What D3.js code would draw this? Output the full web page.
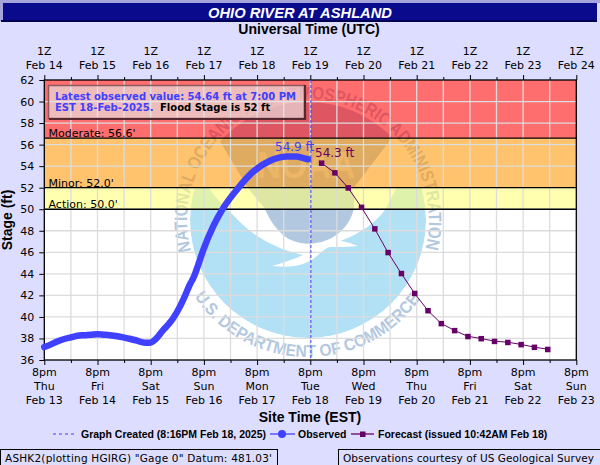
<!DOCTYPE html>
<html>
<head>
<meta charset="utf-8">
<script src="https://cdn.jsdelivr.net/npm/d3@7"></script>
<style>
  body { margin: 0; background: #ddddff; }
  text { font-family: "DejaVu Sans", sans-serif; fill: #000; }
  .bold { font-weight: bold; }
  .title { font-family: "Liberation Sans", sans-serif; font-weight: bold; font-size: 14px; }
  .legend { font-family: "Liberation Sans", sans-serif; font-weight: bold; font-size: 10.5px; }
  .domain { display: none; }
</style>
</head>
<body>
<script>
const width = 600;
const height = 465;

const margin = { top: 80, left: 44.3, bottom: 105, right: 23.7 };

// hours since 8pm EST Thu Feb 13
const obsHours = [0, 3, 5.6, 9, 12, 15, 17.6, 21, 24, 27, 29.6, 33, 35.6, 39, 41.7, 45.4, 47.5, 49.2, 51, 53.7, 56, 58.2, 61.3, 62.7, 65.9, 67.2, 70.2, 71.7, 76.4, 80.7, 86.8, 94.3, 101.8, 105, 109.5, 113.9, 116, 119];
const obsStage = [37.2, 37.45, 37.7, 37.95, 38.1, 38.25, 38.3, 38.35, 38.4, 38.35, 38.3, 38.2, 38.1, 37.95, 37.8, 37.6, 37.6, 37.75, 38.1, 38.8, 39.3, 39.9, 41.0, 41.6, 43.1, 43.6, 45.3, 46.2, 48.5, 50.1, 51.8, 53.5, 54.5, 54.75, 54.9, 54.9, 54.8, 54.64];

const fcstHours = [125, 131, 137, 143, 149, 155, 161, 167, 173, 179, 185, 191, 197, 203, 209, 215, 221, 227];
const fcstStage = [54.3, 53.4, 52.0, 50.2, 48.2, 46.0, 44.05, 42.2, 40.6, 39.4, 38.75, 38.2, 38.0, 37.75, 37.65, 37.45, 37.2, 37.0];

const createdHour = 120.27;

const utcDates = ["Feb 14", "Feb 15", "Feb 16", "Feb 17", "Feb 18", "Feb 19", "Feb 20", "Feb 21", "Feb 22", "Feb 23", "Feb 24"];
const estDays = ["Thu", "Fri", "Sat", "Sun", "Mon", "Tue", "Wed", "Thu", "Fri", "Sat", "Sun"];
const estDates = ["Feb 13", "Feb 14", "Feb 15", "Feb 16", "Feb 17", "Feb 18", "Feb 19", "Feb 20", "Feb 21", "Feb 22", "Feb 23"];

const stageTicks = d3.range(36, 63, 2);
const stageNames = ["Moderate: 56.6'", "Minor: 52.0'", "Action: 50.0'"];
const stageLevels = [56.6, 52, 50];
const stageTop = [62, 56.6, 52];
const zoneColors = ["rgba(255,0,0,0.57)", "rgba(255,149,0,0.57)", "rgba(255,255,114,0.57)"];

const blue = "#4040ff";
const purple = "#660066";

const x = d3.scaleLinear().domain([0, 240]).range([margin.left, width - margin.right]);
const y = d3.scaleLinear().domain([36, 62]).range([height - margin.bottom, margin.top]);

const dayTicks = d3.range(0, 241, 24);
const halfTicks = d3.range(12, 240, 24);

const svg = d3.select("body").append("svg")
  .attr("width", width)
  .attr("height", height)
  .attr("viewBox", `0 0 ${width} ${height}`)
  .style("display", "block");

// title bar
svg.append("rect").attr("width", width).attr("height", 3).attr("fill", "#a5a5dc");
svg.append("rect").attr("y", 0).attr("width", 3).attr("height", 21).attr("fill", "#a5a5dc");
svg.append("rect").attr("x", 3).attr("y", 3).attr("width", 594).attr("height", 17).attr("fill", "#0a0a8c");
svg.append("rect").attr("x", 1).attr("y", 20).attr("width", 596).attr("height", 2).attr("fill", "#000050");
svg.append("text").attr("x", 300).attr("y", 17.5).attr("text-anchor", "middle")
  .style("font-family", "Liberation Sans").style("font-weight", "bold").style("font-style", "italic")
  .style("font-size", "14.7px").style("fill", "#fff")
  .text("OHIO RIVER AT ASHLAND");

svg.append("rect")
  .attr("x", x(0)).attr("y", y(62))
  .attr("width", x(240) - x(0)).attr("height", y(36) - y(62))
  .attr("fill", "#fff");

// noaa watermark, sits under the flood zones
const logoX = 308, logoY = 220, logoR = 118;
const defs = svg.append("defs");
defs.append("clipPath").attr("id", "logoClip")
  .append("circle").attr("cx", logoX).attr("cy", logoY).attr("r", logoR);
defs.append("clipPath").attr("id", "belowMinor")
  .append("rect").attr("x", 0).attr("y", y(52)).attr("width", width).attr("height", height);
defs.append("path").attr("id", "ringTop")
  .attr("d", `M${logoX - 117},${logoY + 31}A121,121 0 1 1 ${logoX + 117},${logoY + 31}`);
defs.append("path").attr("id", "ringBottom")
  .attr("d", `M${logoX - 113.6},${logoY + 76.6}A137,137 0 0 0 ${logoX + 113.6},${logoY + 76.6}`);

const logo = svg.append("g");
const inner = logo.append("g").attr("clip-path", "url(#logoClip)");
inner.append("g").attr("clip-path", "url(#belowMinor)")
  .call((g) => {
    g.append("circle").attr("cx", logoX).attr("cy", logoY).attr("r", logoR).attr("fill", "#b2e1f5");
    g.append("path").attr("fill", "#fff")
      .attr("d", "M205,180C212,195 222,204 232,214C250,234 272,248 303,255C292,260 282,263 272,266C292,268 306,266 318,255C322,251 326,248 330,247C340,247 350,247 358,246C350,243 344,241 340,241C360,234 376,222 385,210L398,185L300,170Z");
  });
inner.append("path").attr("fill", "#b2c8e1")
  .attr("d", "M190,90L425,90L392,138L352,190C358,205 352,222 340,232C325,246 295,249 280,232C272,224 268,216 265,209L248,188L218,138Z");

logo.append("text")
  .attr("x", 306).attr("y", 178).attr("text-anchor", "middle")
  .style("font-family", "Liberation Sans").style("font-weight", "bold")
  .style("font-size", "36px").style("fill", "#d5e0ee")
  .attr("textLength", 98).attr("lengthAdjust", "spacingAndGlyphs")
  .text("NOAA");

const ringStyle = (sel) => sel
  .style("font-family", "Liberation Sans").style("font-weight", "bold")
  .style("font-size", "18px").style("fill", "#b2c8e1");

logo.append("text").call(ringStyle)
  .append("textPath").attr("href", "#ringTop")
  .attr("textLength", 440).attr("lengthAdjust", "spacingAndGlyphs")
  .text("NATIONAL OCEANIC AND ATMOSPHERIC ADMINISTRATION");
logo.append("text").call(ringStyle).style("font-size", "17px")
  .append("textPath").attr("href", "#ringBottom")
  .attr("textLength", 265).attr("lengthAdjust", "spacingAndGlyphs")
  .text("U.S. DEPARTMENT OF COMMERCE");

// flood zones
svg.append("g").selectAll("rect")
  .data(stageTop)
  .join("rect")
  .attr("x", x(0))
  .attr("width", x(240) - x(0))
  .attr("y", (d) => y(d))
  .attr("height", (d, i) => y(stageLevels[i]) - y(d))
  .attr("fill", (d, i) => zoneColors[i]);

// grid
const grid = svg.append("g").attr("stroke", "#dcdcdc").attr("stroke-width", 1.3);
grid.selectAll(".v").data(d3.range(12, 240, 12)).join("line")
  .attr("x1", (d) => x(d)).attr("x2", (d) => x(d))
  .attr("y1", y(62)).attr("y2", y(36));
grid.selectAll(".h").data(stageTicks.slice(1, -1)).join("line")
  .attr("x1", x(0)).attr("x2", x(240))
  .attr("y1", (d) => y(d)).attr("y2", (d) => y(d));

// flood stage lines and their labels
svg.append("g").selectAll("line").data(stageLevels).join("line")
  .attr("x1", x(0)).attr("x2", x(240))
  .attr("y1", (d) => y(d)).attr("y2", (d) => y(d))
  .attr("stroke", "#000").attr("stroke-width", 1.3);
svg.append("g").selectAll("text").data(stageNames).join("text")
  .attr("x", 48.5)
  .attr("y", (d, i) => y(stageLevels[i]) - 1)
  .style("font-size", "11px")
  .text((d) => d);

// axes
const styleAxis = (g) => {
  g.selectAll("text").style("font-size", "11px").style("font-family", "DejaVu Sans");
  g.selectAll("line").attr("stroke", "#000");
};

svg.append("g")
  .attr("transform", `translate(${x(0)},0)`)
  .call(d3.axisLeft(y).tickValues(stageTicks).tickFormat(d3.format("d")).tickSize(5).tickPadding(5))
  .call(styleAxis);

const xBottom = svg.append("g")
  .attr("transform", `translate(0,${y(36)})`)
  .call(d3.axisBottom(x).tickValues(dayTicks).tickFormat("").tickSize(5))
  .call(styleAxis);
xBottom.selectAll(".tick text").remove();
const bottomLabels = xBottom.selectAll(".lab").data(dayTicks).join("text")
  .attr("text-anchor", "middle")
  .attr("transform", (d) => `translate(${x(d)},0)`)
  .style("font-size", "11px");
bottomLabels.append("tspan").attr("x", 0).attr("y", 15.5).text("8pm");
bottomLabels.append("tspan").attr("x", 0).attr("y", 29.5).text((d, i) => estDays[i]);
bottomLabels.append("tspan").attr("x", 0).attr("y", 43.5).text((d, i) => estDates[i]);

const xTop = svg.append("g")
  .attr("transform", `translate(0,${y(62)})`)
  .call(d3.axisTop(x).tickValues(dayTicks).tickFormat("").tickSize(5))
  .call(styleAxis);
xTop.selectAll(".tick text").remove();
const topLabels = xTop.selectAll(".lab").data(dayTicks).join("text")
  .attr("text-anchor", "middle")
  .attr("transform", (d) => `translate(${x(d)},0)`)
  .style("font-size", "11px");
topLabels.append("tspan").attr("x", 0).attr("y", -25).text("1Z");
topLabels.append("tspan").attr("x", 0).attr("y", -11).text((d, i) => utcDates[i]);

// half day ticks
svg.append("g").call(d3.axisBottom(x).tickValues(halfTicks).tickFormat("").tickSize(3))
  .attr("transform", `translate(0,${y(36)})`).call(styleAxis);
svg.append("g").call(d3.axisTop(x).tickValues(halfTicks).tickFormat("").tickSize(3))
  .attr("transform", `translate(0,${y(62)})`).call(styleAxis);

svg.append("rect")
  .attr("x", x(0)).attr("y", y(62))
  .attr("width", x(240) - x(0)).attr("height", y(36) - y(62))
  .attr("fill", "none").attr("stroke", "#000").attr("stroke-width", 1.3);

// axis titles
svg.append("text").attr("class", "title").attr("x", 309).attr("y", 34).attr("text-anchor", "middle")
  .text("Universal Time (UTC)");
svg.append("text").attr("class", "title").attr("x", 310).attr("y", 422).attr("text-anchor", "middle")
  .text("Site Time (EST)");
svg.append("text").attr("class", "title")
  .attr("transform", "translate(12,220) rotate(-90)").attr("text-anchor", "middle")
  .text("Stage (ft)");

// graph created line
svg.append("line")
  .attr("x1", x(createdHour)).attr("x2", x(createdHour))
  .attr("y1", y(62)).attr("y2", y(36))
  .attr("stroke", blue).attr("stroke-dasharray", "3,2");

// observed
const line = d3.line().curve(d3.curveMonotoneX);
svg.append("path")
  .attr("d", line.x((d, i) => x(obsHours[i])).y((d) => y(d))(obsStage))
  .attr("fill", "none").attr("stroke", blue).attr("stroke-width", 6.5)
  .attr("stroke-linecap", "round").attr("stroke-linejoin", "round");

// forecast
svg.append("path")
  .attr("d", d3.line().x((d, i) => x(fcstHours[i])).y((d) => y(d))(fcstStage))
  .attr("fill", "none").attr("stroke", purple).attr("stroke-width", 1);
svg.append("g").selectAll("rect").data(fcstStage).join("rect")
  .attr("x", (d, i) => x(fcstHours[i]) - 2.5)
  .attr("y", (d) => y(d) - 2.5)
  .attr("width", 5.5).attr("height", 5.5)
  .attr("fill", purple);

// crest labels
svg.append("text").attr("x", 275).attr("y", 151).style("font-size", "12px").style("fill", blue)
  .text(`${d3.max(obsStage).toFixed(1)} ft`);
svg.append("text").attr("x", 315).attr("y", 157).style("font-size", "12px").style("fill", purple)
  .text(`${fcstStage[0].toFixed(1)} ft`);

// latest value box
svg.append("rect").attr("x", 48.5).attr("y", 85.5).attr("width", 256).attr("height", 33)
  .attr("fill", "rgba(230,230,230,0.65)").attr("stroke", "#8a5a62").attr("stroke-width", 1.5);
svg.append("path").attr("d", "M305,85V119H49").attr("fill", "none").attr("stroke", "#55282f").attr("stroke-width", 2.2);
svg.append("text").attr("class", "bold").attr("x", 55).attr("y", 100)
  .style("font-size", "10px").style("fill", blue)
  .text("Latest observed value: 54.64 ft at 7:00 PM");
const line2 = svg.append("text").attr("class", "bold").attr("x", 55).attr("y", 111).style("font-size", "10px");
line2.append("tspan").style("fill", blue).text("EST 18-Feb-2025.");
line2.append("tspan").attr("x", 160).style("fill", "#000").text("Flood Stage is 52 ft");

// legend
const legendY = 434;
svg.append("line").attr("x1", 53).attr("x2", 74).attr("y1", legendY).attr("y2", legendY)
  .attr("stroke", blue).attr("stroke-dasharray", "3,3");
svg.append("text").attr("class", "legend").attr("x", 81).attr("y", legendY + 4).text("Graph Created (8:16PM Feb 18, 2025)");
svg.append("line").attr("x1", 270).attr("x2", 295).attr("y1", legendY).attr("y2", legendY).attr("stroke", blue).attr("stroke-width", 1.3);
svg.append("circle").attr("cx", 282).attr("cy", legendY).attr("r", 4).attr("fill", blue);
svg.append("text").attr("class", "legend").attr("x", 298).attr("y", legendY + 4).text("Observed");
svg.append("line").attr("x1", 351).attr("x2", 374).attr("y1", legendY).attr("y2", legendY).attr("stroke", purple).attr("stroke-width", 1.3);
svg.append("rect").attr("x", 360).attr("y", legendY - 2.5).attr("width", 5.5).attr("height", 5.5).attr("fill", purple);
svg.append("text").attr("class", "legend").attr("x", 378).attr("y", legendY + 4).text("Forecast (issued 10:42AM Feb 18)");

// footer boxes
svg.append("rect").attr("x", 0.5).attr("y", 449.5).attr("width", 277).attr("height", 17)
  .attr("fill", "none").attr("stroke", "#000");
svg.append("text").attr("x", 5).attr("y", 462).style("font-size", "10.5px")
  .attr("textLength", 267).attr("lengthAdjust", "spacing")
  .text("ASHK2(plotting HGIRG) \"Gage 0\" Datum: 481.03'");
svg.append("rect").attr("x", 338.5).attr("y", 449.5).attr("width", 264).attr("height", 17)
  .attr("fill", "none").attr("stroke", "#000");
svg.append("text").attr("x", 343).attr("y", 462).style("font-size", "10.5px")
  .attr("textLength", 251).attr("lengthAdjust", "spacing")
  .text("Observations courtesy of US Geological Survey");
</script>
</body>
</html>
